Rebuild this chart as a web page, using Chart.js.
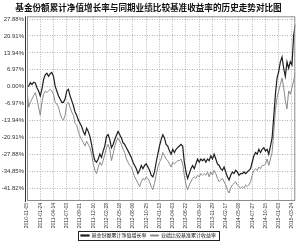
<!DOCTYPE html>
<html>
<head>
<meta charset="utf-8">
<script src="https://cdn.jsdelivr.net/npm/chart.js@4/dist/chart.umd.min.js"></script>
<style>
  html, body { margin: 0; padding: 0; background: #fff; }
  #wrap { width: 300px; height: 250px; }
</style>
</head>
<body>
<div id="wrap"><canvas id="chart"></canvas></div>
<script>
// one value every 10 days from the start date
const startDate = '2010-11-05';
const stepDays = 10;

const fundGrowth = [
  0.0, 0.25, 1.59, 0.92, 1.85, 1.59, -0.42, -1.75, -3.75, -1.08,
  2.92, 4.93, 5.59, 4.26, 5.33, 5.86, 4.26, 0.25, -1.75, -3.75,
  -5.09, -6.42, -6.42, -5.09, -1.75, -1.08, -3.75, -5.76, -7.76, -10.43,
  -11.77, -13.77, -15.1, -16.44, -18.44, -19.78, -17.11, -18.44, -20.45, -23.78,
  -27.79, -30.46, -31.13, -29.79, -27.79, -29.12, -26.45, -24.45, -20.45, -19.78,
  -21.78, -25.12, -23.78, -21.78, -20.04, -18.44, -19.78, -21.11, -23.12, -23.78,
  -25.12, -26.45, -27.79, -29.12, -31.13, -32.46, -33.8, -35.8, -34.47, -32.46,
  -33.8, -32.46, -31.79, -33.13, -34.47, -36.47, -37.14, -35.13, -31.13, -27.79,
  -24.45, -21.78, -19.78, -21.11, -23.78, -24.45, -26.45, -27.79, -25.79, -27.12,
  -25.79, -25.12, -24.45, -23.78, -24.45, -31.13, -35.13, -37.8, -35.8, -33.8,
  -32.46, -33.8, -31.8, -29.79, -31.13, -29.79, -30.46, -29.79, -31.13, -29.79,
  -30.46, -28.46, -29.79, -27.79, -29.79, -31.8, -32.46, -33.8, -34.47, -33.13,
  -35.13, -37.14, -38.47, -36.47, -35.13, -35.8, -34.47, -35.13, -36.47, -35.8,
  -35.8, -35.13, -35.8, -35.13, -34.47, -33.8, -31.13, -28.46, -27.12, -27.79,
  -25.79, -27.12, -25.79, -25.12, -26.45, -25.79, -27.79, -24.45, -21.11, -12.43,
  -3.09, 3.59, 6.26, 10.27, 12.27, 7.6, 4.26, 10.27, 7.6, 10.27,
  8.93, 20.95, 25.6
];

const benchmarkGrowth = [
  -1.0, -8.43, -6.42, -5.09, -3.75, -2.42, -5.09, -8.43, -11.77, -6.42,
  -3.09, -1.75, -2.42, -1.75, -1.08, -1.75, -3.09, -6.42, -7.09, -8.43,
  -11.1, -13.1, -13.77, -11.77, -7.09, -6.42, -8.43, -10.43, -11.77, -15.1,
  -15.77, -18.44, -20.45, -21.78, -23.12, -24.45, -22.45, -23.78, -25.12, -27.79,
  -31.79, -34.47, -35.8, -33.13, -31.13, -32.46, -30.46, -27.79, -25.12, -23.78,
  -25.79, -30.46, -27.79, -24.45, -22.45, -21.11, -22.45, -23.78, -25.79, -27.12,
  -29.79, -31.13, -32.46, -33.13, -35.13, -37.14, -38.47, -39.81, -41.14, -39.14,
  -37.8, -38.47, -37.14, -37.8, -39.14, -41.14, -42.48, -39.81, -36.47, -33.13,
  -31.13, -29.79, -27.12, -28.46, -29.79, -30.46, -31.8, -33.13, -31.13, -31.8,
  -31.13, -30.46, -30.46, -29.79, -31.8, -36.47, -40.48, -42.48, -40.48, -39.14,
  -37.8, -37.14, -37.8, -36.47, -37.14, -35.8, -36.47, -35.8, -36.47, -35.13,
  -37.14, -35.13, -36.47, -34.47, -35.8, -37.8, -39.14, -38.47, -37.8, -39.14,
  -40.48, -42.48, -43.81, -41.81, -40.48, -39.81, -39.14, -40.48, -41.14, -41.81,
  -41.14, -41.81, -40.48, -41.14, -40.48, -39.14, -36.47, -34.47, -33.8, -34.47,
  -33.13, -33.8, -32.46, -32.46, -31.8, -29.79, -32.46, -29.79, -27.12, -19.11,
  -9.76, -4.42, -1.75, 0.92, 3.59, -0.42, -5.76, -9.1, -1.75, -3.09,
  -0.42, 2.25, 6.0
];

const xTickLabels = [
  '2010-11-05', '2011-01-24', '2011-04-14', '2011-07-03', '2011-09-21', '2011-12-10',
  '2012-02-28', '2012-05-18', '2012-08-06', '2012-10-25', '2013-01-13', '2013-04-03',
  '2013-06-22', '2013-09-10', '2013-11-29', '2014-02-17', '2014-05-08', '2014-07-27',
  '2014-10-15', '2015-01-03', '2015-03-24'
];
const yTickValues = [27.88, 20.91, 13.94, 6.97, 0, -6.97, -13.94, -20.91, -27.88, -34.85, -41.82];

const seriesNames = ['基金份额累计净值增长率', '业绩比较基准累计收益率'];

const dayOf = (s) => Math.round((Date.parse(s) - Date.parse(startDate)) / 86400000);
const toPoints = (arr) => arr.map((v, i) => ({x: i * stepDays, y: v}));

const cjk = '"Noto Sans CJK SC", sans-serif';
const latin = '"Liberation Sans", Arial, sans-serif';

// plot frame with the doubled left edge
const framePlugin = {
    id: 'frame',
    afterDraw(chart) {
        const {ctx, chartArea: a} = chart;
        ctx.save();
        ctx.strokeStyle = '#8c8c8c';
        ctx.lineWidth = 1;
        ctx.strokeRect(a.left + 0.5, a.top + 0.5, a.right - a.left - 1, a.bottom - a.top - 1);
        ctx.strokeStyle = '#333';
        ctx.beginPath();
        ctx.moveTo(a.left - 1.5, a.top);
        ctx.lineTo(a.left - 1.5, a.bottom + 1);
        ctx.stroke();
        ctx.restore();
    }
};

// box round the legend items
const legendBoxPlugin = {
    id: 'legendBox',
    afterDraw(chart) {
        const boxes = chart.legend && chart.legend.legendHitBoxes;
        if (!boxes || !boxes.length) return;
        const left = Math.min(...boxes.map(b => b.left)) - 3;
        const right = Math.max(...boxes.map(b => b.left + b.width)) + 3;
        const top = Math.min(...boxes.map(b => b.top)) - 2;
        const bottom = Math.max(...boxes.map(b => b.top + b.height)) + 2;
        const ctx = chart.ctx;
        ctx.save();
        ctx.strokeStyle = '#222';
        ctx.lineWidth = 1;
        ctx.strokeRect(Math.round(left) + 0.5, Math.round(top) + 0.5, Math.round(right - left), Math.round(bottom - top));
        ctx.restore();
    }
};

new Chart(document.getElementById('chart'), {
    type: 'line',
    data: {
        datasets: [
            {
                label: seriesNames[0],
                data: toPoints(fundGrowth),
                borderColor: '#1e1e1e',
                backgroundColor: '#1e1e1e',
                borderWidth: 1.2,
                pointRadius: 0,
            },
            {
                label: seriesNames[1],
                data: toPoints(benchmarkGrowth),
                borderColor: '#8a8a8a',
                backgroundColor: '#8a8a8a',
                borderWidth: 1,
                pointRadius: 0,
            },
        ],
    },
    options: {
        responsive: true,
        maintainAspectRatio: false,
        animation: false,
        layout: {padding: {left: 0, right: 3, top: 1, bottom: 2}},
        scales: {
            x: {
                type: 'linear',
                min: 0,
                max: 1620,
                afterBuildTicks: (s) => { s.ticks = xTickLabels.map(l => ({value: dayOf(l)})); },
                afterFit: (s) => { s.height = 28; },
                ticks: {
                    autoSkip: false,
                    minRotation: 90,
                    maxRotation: 90,
                    padding: 2,
                    color: '#333',
                    font: {family: latin, size: 5},
                    callback: (v, i) => xTickLabels[i],
                },
                grid: {color: '#a0a0a0', lineWidth: 0.8, drawTicks: false},
                border: {display: false, dash: [1, 1.5]},
            },
            y: {
                min: -47.1,
                max: 29.0,
                afterBuildTicks: (s) => { s.ticks = yTickValues.map(v => ({value: v})); },
                afterFit: (s) => { s.width = 27; },
                ticks: {
                    padding: 3,
                    color: '#333',
                    font: {family: latin, size: 6},
                    callback: (v) => v.toFixed(2) + '%',
                },
                grid: {color: '#a0a0a0', lineWidth: 0.8, drawTicks: false},
                border: {display: false, dash: [1, 1.5]},
            },
        },
        plugins: {
            title: {
                display: true,
                text: '基金份额累计净值增长率与同期业绩比较基准收益率的历史走势对比图',
                color: '#111',
                font: {family: cjk, size: 8.6, weight: 'bold'},
                padding: {top: 2, bottom: 3},
            },
            legend: {
                position: 'bottom',
                labels: {
                    boxWidth: 8,
                    boxHeight: 1,
                    padding: 4,
                    color: '#111',
                    font: {family: cjk, size: 5},
                },
            },
            tooltip: {enabled: false},
        },
    },
    plugins: [framePlugin, legendBoxPlugin],
});
</script>
</body>
</html>
